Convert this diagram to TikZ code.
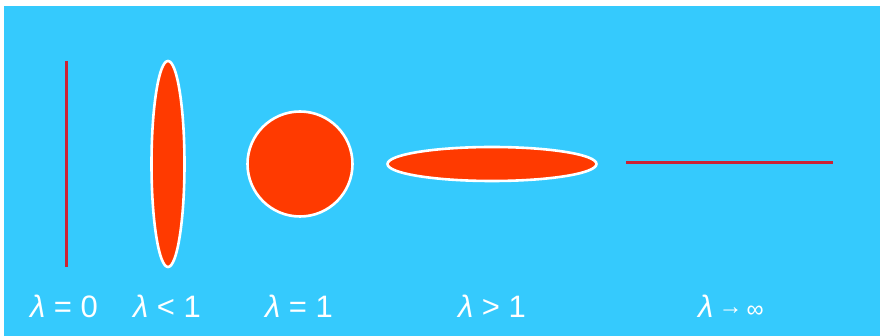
\documentclass[tikz,border=0pt]{standalone}
\usepackage{fontspec}
\setmainfont{Liberation Sans}
\definecolor{bg}{HTML}{35CAFD}
\definecolor{shapefill}{HTML}{FF3A00}
\definecolor{linered}{HTML}{CC2233}
\begin{document}
\begin{tikzpicture}[x=1pt,y=-1pt,
  lbl/.style={text=white,font=\fontsize{31}{34}\selectfont,anchor=base},
  blob/.style={fill=shapefill,draw=white,line width=2.6pt},
  rline/.style={draw=linered,line width=3pt}]
\useasboundingbox (0,0) rectangle (880,336);
\fill[white] (0,0) rectangle (880,336);
\fill[bg] (4,6) rectangle (880,336);
\draw[rline] (66,61) -- (66,267);
\draw[blob] (168,164) ellipse [x radius=16.5, y radius=103];
\draw[blob] (300,164) circle [radius=52.5];
\draw[blob] (492,164) ellipse [x radius=104.5, y radius=17];
\draw[rline] (626,163) -- (833,163);
\node[lbl] (l0) at (64,318) {\textit{λ} = 0};
\node[lbl] (l1) at (167,318) {\textit{λ} < 1};
\node[lbl] (l2) at (299,318) {\textit{λ} = 1};
\node[lbl] (l3) at (492,318) {\textit{λ} > 1};
\node[lbl] (l4) at (731,318) {\textit{λ}\,{\fontsize{24}{26}\selectfont\raisebox{3pt}{→}\,∞}};
\end{tikzpicture}
\end{document}
